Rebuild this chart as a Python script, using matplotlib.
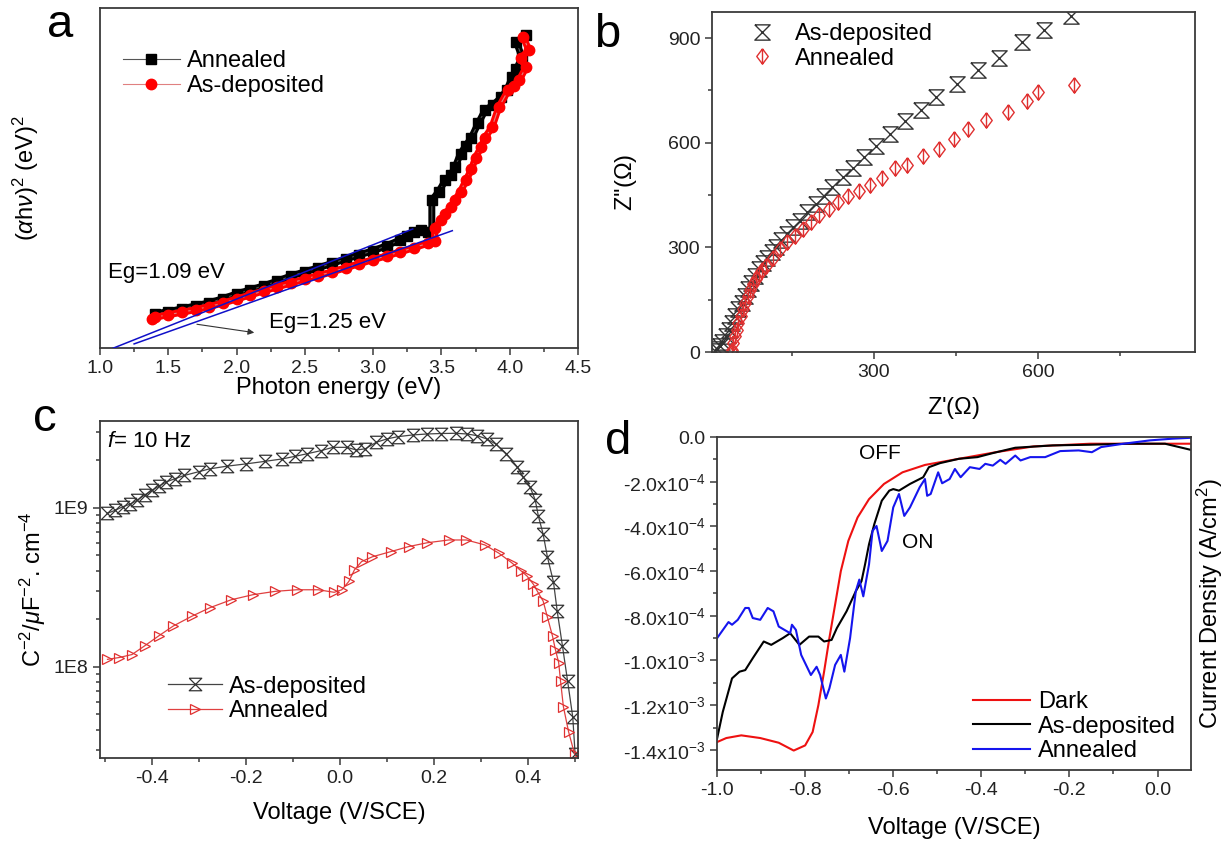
import numpy as np
import matplotlib
matplotlib.use('Agg')
import matplotlib.pyplot as plt
from matplotlib.path import Path
from matplotlib.ticker import MultipleLocator, FixedLocator, LogLocator, FuncFormatter, NullFormatter

plt.rcParams['font.family'] = ['Liberation Sans', 'DejaVu Sans']
plt.rcParams['mathtext.fontset'] = 'custom'
plt.rcParams['mathtext.rm'] = 'Liberation Sans'
plt.rcParams['mathtext.it'] = 'Liberation Sans:italic'
plt.rcParams['mathtext.bf'] = 'Liberation Sans:bold'
plt.rcParams['axes.unicode_minus'] = False

# ---------------- data ----------------
# (a) Tauc plot, y in arbitrary units
a_ann_e = [1.40, 1.50, 1.60, 1.70, 1.80, 1.90, 2.00, 2.10, 2.20, 2.30, 2.40, 2.50, 2.60, 2.70,
           2.80, 2.90, 3.00, 3.10, 3.20, 3.25, 3.30, 3.35, 3.40, 3.43, 3.43, 3.48, 3.53, 3.57,
           3.60, 3.64, 3.68, 3.72, 3.77, 3.82, 3.88, 3.94, 3.98, 4.02, 4.05, 4.09, 4.05, 4.12]
a_ann_y = [1.00, 1.07, 1.15, 1.24, 1.33, 1.45, 1.59, 1.71, 1.83, 1.97, 2.12, 2.24, 2.36, 2.49,
           2.62, 2.74, 2.86, 3.01, 3.18, 3.30, 3.42, 3.46, 3.42, 3.40, 4.34, 4.60, 4.93, 5.10,
           5.31, 5.72, 5.95, 6.19, 6.61, 6.99, 7.15, 7.37, 7.60, 7.96, 8.20, 8.55, 9.00, 9.20]
a_dep_e = [1.38, 1.40, 1.50, 1.60, 1.70, 1.80, 1.90, 2.00, 2.10, 2.20, 2.30, 2.40, 2.50, 2.60,
           2.70, 2.80, 2.90, 3.00, 3.10, 3.20, 3.30, 3.40, 3.45, 3.45, 3.50, 3.53, 3.57, 3.60,
           3.64, 3.68, 3.72, 3.75, 3.79, 3.82, 3.87, 3.92, 3.99, 4.03, 4.07, 4.12, 4.08, 4.14, 4.10]
a_dep_y = [0.86, 0.90, 0.98, 1.05, 1.13, 1.22, 1.32, 1.44, 1.56, 1.68, 1.80, 1.91, 2.03, 2.13,
           2.24, 2.36, 2.48, 2.60, 2.71, 2.83, 2.95, 3.08, 3.16, 3.54, 3.75, 3.95, 4.15, 4.34,
           4.60, 4.93, 5.25, 5.60, 5.90, 6.19, 6.49, 7.08, 7.58, 7.70, 7.88, 8.26, 8.52, 8.76, 9.15]
fit1_e = [1.05, 3.29]
fit1_y = [-0.08, 3.50]
fit2_e = [1.25, 3.58]
fit2_y = [0.12, 3.45]

# (b) Nyquist plot (ohm)
b_dep_re = [660, 611, 570, 528, 490, 452, 414, 386, 357, 329, 304, 283, 262, 243, 223, 209, 194,
            178, 166, 153, 142, 131, 122, 114, 106, 98, 91, 83, 76, 70, 65, 59, 53, 47, 42, 36,
            30, 24, 19, 14, 11]
b_dep_im = [964, 923, 889, 844, 808, 769, 731, 695, 661, 625, 592, 560, 529, 502, 474, 448, 425,
            401, 377, 358, 337, 320, 300, 286, 271, 255, 238, 218, 199, 180, 161, 141, 122, 103,
            84, 64, 45, 30, 16, 8, 2]
b_ann_re = [665, 600, 580, 545, 505, 472, 447, 419, 390, 361, 339, 315, 294, 273, 253, 235, 219,
            201, 186, 171, 156, 142, 129, 116, 103, 97, 91, 85, 80, 75, 70, 65, 61, 57, 53, 50,
            47, 44, 42, 41]
b_ann_im = [767, 745, 719, 688, 664, 640, 610, 581, 563, 536, 527, 498, 478, 462, 448, 430, 411,
            392, 373, 353, 334, 315, 296, 271, 247, 235, 223, 208, 194, 178, 161, 142, 122, 103,
            84, 64, 45, 25, 7, 0]

# (c) Mott-Schottky, f = 10 Hz
c_dep_v = [-0.494, -0.478, -0.462, -0.446, -0.431, -0.415, -0.400, -0.385, -0.369, -0.350, -0.331,
           -0.300, -0.277, -0.240, -0.200, -0.160, -0.123, -0.095, -0.069, -0.040, -0.015, 0.015,
           0.035, 0.054, 0.077, 0.100, 0.123, 0.155, 0.185, 0.215, 0.246, 0.270, 0.292, 0.312,
           0.331, 0.354, 0.377, 0.390, 0.404, 0.415, 0.422, 0.432, 0.441, 0.454, 0.462, 0.473,
           0.484, 0.495, 0.500]
c_dep_c = [9.2e8, 9.6e8, 1.01e9, 1.05e9, 1.11e9, 1.20e9, 1.28e9, 1.36e9, 1.45e9, 1.52e9, 1.59e9,
           1.68e9, 1.75e9, 1.82e9, 1.88e9, 1.95e9, 2.02e9, 2.10e9, 2.18e9, 2.28e9, 2.39e9, 2.39e9,
           2.30e9, 2.34e9, 2.57e9, 2.70e9, 2.79e9, 2.86e9, 2.90e9, 2.92e9, 2.93e9, 2.90e9, 2.83e9,
           2.70e9, 2.51e9, 2.18e9, 1.80e9, 1.55e9, 1.35e9, 1.12e9, 8.8e8, 6.8e8, 4.9e8, 3.4e8,
           2.22e8, 1.35e8, 8.1e7, 4.8e7, 2.8e7]
c_ann_v = [-0.494, -0.469, -0.442, -0.415, -0.385, -0.354, -0.315, -0.277, -0.231, -0.185, -0.138,
           -0.092, -0.046, -0.012, 0.004, 0.019, 0.031, 0.046, 0.069, 0.108, 0.146, 0.185, 0.231,
           0.269, 0.308, 0.338, 0.365, 0.385, 0.398, 0.411, 0.419, 0.432, 0.441, 0.452, 0.458,
           0.465, 0.469, 0.475, 0.486, 0.499]
c_ann_c = [1.11e8, 1.14e8, 1.19e8, 1.35e8, 1.56e8, 1.80e8, 2.07e8, 2.34e8, 2.63e8, 2.83e8, 2.97e8,
           3.04e8, 3.04e8, 2.93e8, 3.04e8, 3.43e8, 4.06e8, 4.57e8, 4.90e8, 5.28e8, 5.68e8, 6.00e8,
           6.25e8, 6.25e8, 5.82e8, 5.16e8, 4.50e8, 4.00e8, 3.70e8, 3.30e8, 3.00e8, 2.58e8, 2.05e8,
           1.55e8, 1.28e8, 1.06e8, 8.1e7, 5.6e7, 3.9e7, 2.8e7]

# (d) linear sweep voltammetry, current density in 1e-4 A/cm2
d_dark_v = [-1.000, -0.979, -0.945, -0.902, -0.860, -0.826, -0.800, -0.783, -0.770, -0.757, -0.745,
            -0.732, -0.719, -0.702, -0.681, -0.655, -0.621, -0.579, -0.528, -0.451, -0.366, -0.281,
            -0.153, -0.026, 0.081]
d_dark_j = [-13.65, -13.47, -13.35, -13.47, -13.68, -14.03, -13.80, -13.20, -12.00, -10.50, -9.00,
            -7.50, -6.00, -4.65, -3.60, -2.78, -2.10, -1.58, -1.25, -0.975, -0.675, -0.42,
            -0.30, -0.30, -0.30]
d_dep_v = [-1.000, -0.987, -0.966, -0.949, -0.936, -0.919, -0.894, -0.877, -0.851, -0.834, -0.813,
           -0.791, -0.770, -0.757, -0.740, -0.728, -0.706, -0.685, -0.672, -0.664, -0.655, -0.643,
           -0.626, -0.609, -0.600, -0.587, -0.562, -0.532, -0.519, -0.494, -0.451, -0.409, -0.374,
           -0.323, -0.238, -0.153, -0.068, 0.017, 0.081]
d_dep_j = [-13.5, -12.3, -10.8, -10.5, -10.43, -9.9, -9.15, -9.3, -9.0, -8.78, -9.3,
           -8.93, -8.93, -9.15, -9.08, -8.55, -7.8, -6.9, -6.45, -5.7, -4.8, -3.9,
           -2.85, -2.4, -2.33, -2.4, -2.1, -1.8, -1.35, -1.17, -0.975, -0.9, -0.72,
           -0.48, -0.375, -0.345, -0.30, -0.30, -0.60]
d_ann_v = [-1.000, -0.974, -0.966, -0.953, -0.936, -0.928, -0.919, -0.902, -0.885, -0.872, -0.860,
           -0.834, -0.830, -0.821, -0.809, -0.787, -0.774, -0.766, -0.753, -0.745, -0.732, -0.719,
           -0.711, -0.698, -0.685, -0.677, -0.668, -0.655, -0.647, -0.638, -0.626, -0.613, -0.600,
           -0.587, -0.575, -0.562, -0.540, -0.528, -0.523, -0.515, -0.498, -0.489, -0.472, -0.460,
           -0.447, -0.426, -0.404, -0.391, -0.374, -0.357, -0.345, -0.323, -0.311, -0.289, -0.255,
           -0.221, -0.179, -0.149, -0.128, -0.077, -0.017, 0.034, 0.081]
d_ann_j = [-9.0, -8.28, -8.4, -8.18, -7.65, -7.65, -8.1, -8.18, -7.65, -7.8, -8.48,
           -8.78, -8.4, -8.63, -9.75, -10.65, -10.28, -10.65, -11.7, -11.25, -10.2, -9.75,
           -10.5, -9.0, -6.9, -6.38, -7.13, -5.7, -4.2, -3.98, -5.1, -4.65, -3.15,
           -2.55, -3.53, -3.15, -2.25, -1.88, -2.63, -2.55, -1.58, -2.07, -1.88, -1.43,
           -1.8, -1.35, -1.43, -1.2, -1.28, -1.02, -1.2, -0.83, -1.05, -0.9, -0.9,
           -0.63, -0.6, -0.68, -0.45, -0.30, -0.15, -0.075, -0.03]

# ---------------- styling helpers ----------------
EDGE = '#3a3a3a'
TICK_FS = 14
LABEL_FS = 17
LEG_FS = 17
hourglass = Path([(-1, 1), (1, 1), (-1, -1), (1, -1), (-1, 1)],
                 [Path.MOVETO, Path.LINETO, Path.LINETO, Path.LINETO, Path.LINETO])
diamond_bar = Path([(0, 1), (0.75, 0), (0, -1), (-0.75, 0), (0, 1), (0, 1), (0, -1)],
                   [Path.MOVETO, Path.LINETO, Path.LINETO, Path.LINETO, Path.LINETO,
                    Path.MOVETO, Path.LINETO])


def style_axes(ax):
    for s in ax.spines.values():
        s.set_linewidth(1.3)
        s.set_color(EDGE)
    ax.tick_params(which='both', direction='out', color=EDGE, width=1.1, labelsize=TICK_FS,
                   labelcolor='#222222')
    ax.tick_params(which='major', length=5)
    ax.tick_params(which='minor', length=3)


def one_dec(v, pos):
    return '%.1f' % (0.0 if abs(v) < 1e-9 else v)


fig = plt.figure(figsize=(12.31, 8.43), dpi=100)
ax_a = fig.add_axes([0.0812, 0.5872, 0.3883, 0.4033])
ax_b = fig.add_axes([0.5784, 0.5824, 0.3924, 0.4034])
ax_c = fig.add_axes([0.0812, 0.1008, 0.3883, 0.3998])
ax_d = fig.add_axes([0.5825, 0.0866, 0.3850, 0.3950])
for ax in (ax_a, ax_b, ax_c, ax_d):
    style_axes(ax)

# ---------------- (a) ----------------
ax_a.plot(a_ann_e, a_ann_y, color='black', lw=5, solid_capstyle='round', zorder=2)
ax_a.plot(a_ann_e, a_ann_y, color='#555555', lw=0.8, marker='s', ms=6.5, mfc='black',
          mec='black', label='Annealed', zorder=3)
ax_a.plot(a_dep_e, a_dep_y, color='#ff0000', lw=5, solid_capstyle='round', zorder=4)
ax_a.plot(a_dep_e, a_dep_y, color='#e08080', lw=0.8, marker='o', ms=7.5, mfc='#ff0000',
          mec='#ff0000', label='As-deposited', zorder=5)
ax_a.plot(fit1_e, fit1_y, color='#1010c8', lw=1.1, zorder=6)
ax_a.plot(fit2_e, fit2_y, color='#1010c8', lw=1.1, zorder=6)
ax_a.text(1.06, 2.21, 'Eg=1.09 eV', fontsize=16, va='center', ha='left')
ax_a.text(2.24, 0.74, 'Eg=1.25 eV', fontsize=16, va='center', ha='left')
ax_a.annotate('', xy=(2.15, 0.44), xytext=(1.69, 0.71),
              arrowprops=dict(arrowstyle='-|>', color='#333333', lw=0.8, mutation_scale=9))
ax_a.set_xlim(1.0, 4.5)
ax_a.set_ylim(0, 10)
ax_a.xaxis.set_major_locator(MultipleLocator(0.5))
ax_a.xaxis.set_minor_locator(MultipleLocator(0.25))
ax_a.xaxis.set_major_formatter(FuncFormatter(one_dec))
ax_a.set_yticks([])
ax_a.set_xlabel('Photon energy (eV)', fontsize=LABEL_FS)
ax_a.xaxis.set_label_coords(0.5, -0.085)
ax_a.set_ylabel(r'($\alpha$h$\nu$)$^2$ (eV)$^2$', fontsize=LABEL_FS)
ax_a.yaxis.set_label_coords(-0.123, 0.5)
ax_a.legend(loc='center left', bbox_to_anchor=(0.048, 0.807), frameon=False, fontsize=LEG_FS,
            handlelength=2.4, handletextpad=0.3, labelspacing=0.12, borderaxespad=0,
            borderpad=0)

# ---------------- (b) ----------------
ax_b.plot(b_dep_re, b_dep_im, ls='none', marker=hourglass, ms=11, mfc='none', mec='#333333',
          mew=1.0, label='As-deposited')
ax_b.plot(b_ann_re, b_ann_im, ls='none', marker=diamond_bar, ms=11, mfc='none', mec='#e03030',
          mew=1.0, label='Annealed')
ax_b.set_xlim(5, 886)
ax_b.set_ylim(0, 975)
ax_b.xaxis.set_major_locator(FixedLocator([300, 600]))
ax_b.xaxis.set_minor_locator(FixedLocator([150, 450, 750]))
ax_b.yaxis.set_major_locator(MultipleLocator(300))
ax_b.yaxis.set_minor_locator(MultipleLocator(150))
ax_b.set_xlabel(r"Z'($\Omega$)", fontsize=LABEL_FS)
ax_b.xaxis.set_label_coords(0.5, -0.126)
ax_b.set_ylabel(r"Z''($\Omega$)", fontsize=LABEL_FS)
ax_b.yaxis.set_label_coords(-0.151, 0.5)
ax_b.legend(loc='center left', bbox_to_anchor=(0.0745, 0.899), frameon=False, fontsize=LEG_FS,
            handlelength=1.2, handletextpad=0.8, labelspacing=0.12, borderaxespad=0,
            borderpad=0)

# ---------------- (c) ----------------
ax_c.plot(c_dep_v, c_dep_c, color='#444444', lw=0.9, marker=hourglass, ms=9, mfc='none',
          mec='#333333', mew=0.9, label='As-deposited')
ax_c.plot(c_ann_v, c_ann_c, color='#e04040', lw=0.9, marker='>', ms=7, mfc='none',
          mec='#e03030', mew=0.9, label='Annealed')
ax_c.set_yscale('log')
ax_c.set_xlim(-0.51, 0.506)
ax_c.set_ylim(2.66e7, 3.5e9)
ax_c.xaxis.set_major_locator(MultipleLocator(0.2))
ax_c.xaxis.set_minor_locator(MultipleLocator(0.1))
ax_c.xaxis.set_major_formatter(FuncFormatter(one_dec))
ax_c.yaxis.set_major_locator(FixedLocator([1e8, 1e9]))
ax_c.yaxis.set_major_formatter(FuncFormatter(lambda v, p: '1E%d' % round(np.log10(v))))
ax_c.yaxis.set_minor_locator(LogLocator(base=10, subs=np.arange(2, 10)))
ax_c.yaxis.set_minor_formatter(NullFormatter())
ax_c.set_xlabel('Voltage (V/SCE)', fontsize=LABEL_FS)
ax_c.xaxis.set_label_coords(0.5, -0.13)
ax_c.set_ylabel(r'C$^{-2}$/$\mu$F$^{-2}$. cm$^{-4}$', fontsize=LABEL_FS)
ax_c.yaxis.set_label_coords(-0.109, 0.5)
ax_c.text(0.015, 0.94, r'$f$= 10 Hz', transform=ax_c.transAxes, fontsize=16, va='center')
ax_c.legend(loc='center left', bbox_to_anchor=(0.142, 0.175), frameon=False, fontsize=LEG_FS,
            handlelength=2.3, handletextpad=0.3, labelspacing=0.12, borderaxespad=0,
            borderpad=0)

# ---------------- (d) ----------------
scale = 1e-4
ax_d.plot(np.array(d_dark_v), np.array(d_dark_j) * scale, color='#ee1111', lw=1.5, label='Dark')
ax_d.plot(np.array(d_dep_v), np.array(d_dep_j) * scale, color='black', lw=1.5,
          label='As-deposited')
ax_d.plot(np.array(d_ann_v), np.array(d_ann_j) * scale, color='#1515ee', lw=1.5,
          label='Annealed')
ax_d.set_xlim(-1.0, 0.076)
ax_d.set_ylim(-1.49e-3, 0)
ax_d.xaxis.set_major_locator(MultipleLocator(0.2))
ax_d.xaxis.set_minor_locator(MultipleLocator(0.1))
ax_d.xaxis.set_major_formatter(FuncFormatter(one_dec))
ax_d.yaxis.set_major_locator(MultipleLocator(2e-4))
ax_d.yaxis.set_minor_locator(MultipleLocator(1e-4))


def sci_label(v, pos):
    if abs(v) < 1e-12:
        return '0.0'
    e = int(np.floor(np.log10(abs(v))))
    m = v / 10 ** e
    return r'%.1fx10$^{%d}$' % (m, e)


ax_d.yaxis.set_major_formatter(FuncFormatter(sci_label))
ax_d.text(-0.63, -0.75e-4, 'OFF', fontsize=15, ha='center', va='center')
ax_d.text(-0.545, -4.7e-4, 'ON', fontsize=15, ha='center', va='center')
ax_d.set_xlabel('Voltage (V/SCE)', fontsize=LABEL_FS)
ax_d.xaxis.set_label_coords(0.5, -0.14)
ax_d.yaxis.set_label_position('right')
ax_d.set_ylabel(r'Current Density (A/cm$^2$)', fontsize=LABEL_FS)
ax_d.yaxis.set_label_coords(1.008, 0.5)
ax_d.legend(loc='center left', bbox_to_anchor=(0.54, 0.13), frameon=False, fontsize=LEG_FS,
            handlelength=2.4, handletextpad=0.35, labelspacing=0.1, borderaxespad=0,
            borderpad=0)

# panel letters
fig.text(0.0487, 0.970, 'a', fontsize=34, ha='center', va='center')
fig.text(0.493, 0.958, 'b', fontsize=34, ha='center', va='center')
fig.text(0.0366, 0.503, 'c', fontsize=34, ha='center', va='center')
fig.text(0.502, 0.476, 'd', fontsize=34, ha='center', va='center')

fig.savefig('out.png', dpi=100)
